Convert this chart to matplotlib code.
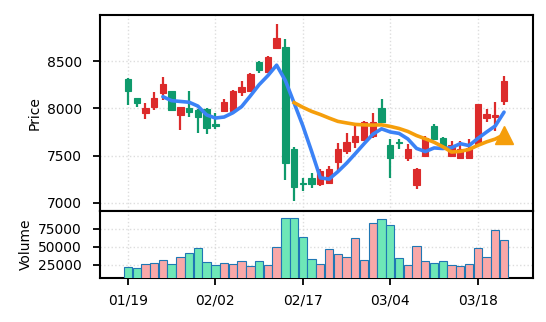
import matplotlib

matplotlib.use("Agg")
import matplotlib.pyplot as plt
import numpy as np
import pandas as pd
from matplotlib.ticker import FuncFormatter

plt.rcParams.update(
    {
        "font.family": "DejaVu Sans",
        "font.size": 10,
        "axes.linewidth": 1.5,
        "xtick.major.width": 1.3,
        "ytick.major.width": 1.3,
        "xtick.major.size": 5,
        "ytick.major.size": 5,
        "xtick.major.pad": 6,
        "ytick.major.pad": 8,
    }
)

# daily OHLC + volume, 44 sessions
opens = [8313, 8110, 7951, 8011, 8162, 8187, 7926, 8004, 7986, 7997,
         7830, 7968, 7968, 8173, 8187, 8489, 8390, 8637, 8654, 7572,
         7210, 7266, 7195, 7206, 7435, 7546, 7645, 7662, 7705, 8004,
         7610, 7640, 7477, 7185, 7495, 7810, 7688, 7500, 7469, 7477,
         7620, 7899, 7905, 8074]
closes = [8190, 8057, 8004, 8110, 8261, 7979, 8015, 7962, 7905, 7793,
          7815, 8068, 8187, 8232, 8363, 8408, 8549, 8743, 7417, 7171,
          7195, 7195, 7335, 7353, 7564, 7645, 7705, 7857, 7857, 7852,
          7477, 7630, 7564, 7353, 7685, 7670, 7600, 7610, 7564, 7582,
          8048, 7941, 7935, 8295]
highs = [8327, 8115, 8057, 8179, 8338, 8190, 8020, 8190, 7990, 8000,
         7950, 8100, 8200, 8292, 8375, 8505, 8556, 8895, 8735, 7595,
         7266, 7318, 7353, 7388, 7635, 7740, 7810, 7863, 7950, 8100,
         7670, 7670, 7617, 7370, 7712, 7835, 7695, 7652, 7659, 7670,
         8050, 7994, 8068, 8345]
lows = [8032, 8020, 7891, 7986, 8084, 7975, 7775, 7909, 7740, 7733,
        7780, 7960, 7965, 8127, 8180, 8375, 8385, 8635, 7240, 7012,
        7124, 7153, 7177, 7195, 7335, 7512, 7582, 7652, 7690, 7845,
        7266, 7564, 7441, 7140, 7483, 7665, 7590, 7494, 7459, 7475,
        7610, 7857, 7765, 8032]
volumes = [21700, 20200, 25900, 27400, 31700, 25900, 35900, 41200, 48800, 28800,
           24500, 27400, 25900, 29800, 23100, 29800, 24500, 50200, 90200, 90200,
           63100, 33100, 25900, 47400, 40200, 35900, 61700, 31700, 83100, 88800,
           80200, 34500, 24500, 51700, 30200, 27400, 30200, 25000, 23100, 25900,
           48800, 35900, 73100, 59300]

tick_idx = [0, 10, 20, 30, 40]
tick_labels = ["01/19", "02/02", "02/17", "03/04", "03/18"]

UP = "#dc2b2b"
DOWN = "#0f9a6c"
VOL_UP = "#f9a8a8"
VOL_DOWN = "#6ee7b7"
VOL_EDGE = "#1f77b4"
MA5_COLOR = "#3b82f6"
MA20_COLOR = "#f59e0b"

df = pd.DataFrame(
    {"open": opens, "high": highs, "low": lows, "close": closes, "volume": volumes}
)
x = np.arange(len(df))
up = df["close"] >= df["open"]
ma5 = df["close"].rolling(5).mean()
ma20 = df["close"].rolling(20).mean()

fig = plt.figure(figsize=(5.46, 3.22), dpi=100)
ax = fig.add_axes([0.183, 0.345, 0.793, 0.608])
axv = fig.add_axes([0.183, 0.137, 0.793, 0.208], sharex=ax)

# candles
body_colors = np.where(up, UP, DOWN)
ax.vlines(x, df["low"], df["high"], colors=body_colors, linewidth=1.6, zorder=2)
body_bottom = np.minimum(df["open"], df["close"])
body_height = np.maximum((df["close"] - df["open"]).abs(), 8)
ax.bar(x, body_height, bottom=body_bottom, width=0.72, color=body_colors,
       edgecolor=body_colors, linewidth=0.8, zorder=3)

ax.plot(x, ma5, color=MA5_COLOR, linewidth=2.6, zorder=4, solid_capstyle="round")
ax.plot(x, ma20, color=MA20_COLOR, linewidth=2.6, zorder=4,
        marker="^", markevery=[len(x) - 1], markersize=13)

ax.set_ylim(6912, 8990)
ax.set_yticks([7000, 7500, 8000, 8500])
ax.set_ylabel("Price")
ax.grid(True, linestyle=":", linewidth=1.0, color="#dddddd")
ax.tick_params(axis="x", bottom=False, labelbottom=False)

# volume
vol_colors = np.where(up, VOL_UP, VOL_DOWN)
axv.bar(x, df["volume"], width=0.95, color=vol_colors, edgecolor=VOL_EDGE,
        linewidth=0.8, zorder=3)
axv.set_ylim(7000, 99600)
axv.set_yticks([25000, 50000, 75000])
axv.yaxis.set_major_formatter(FuncFormatter(lambda v, _: f"{v:.0f}"))
axv.set_ylabel("Volume")
axv.grid(True, linestyle=":", linewidth=1.0, color="#dddddd")
axv.set_xticks(tick_idx)
axv.set_xticklabels(tick_labels)
axv.set_xlim(-3.2, 46.3)

for a in (ax, axv):
    a.set_axisbelow(True)

fig.savefig("out.png", dpi=100)
